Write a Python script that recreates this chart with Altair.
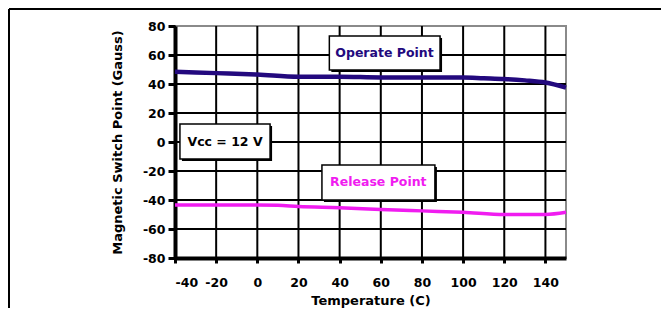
import altair as alt
import pandas as pd

# Data
temp_operate = [-40, -20, 0, 20, 40, 60, 80, 100, 110, 120, 130, 140, 150]
operate = [48.5, 47.5, 46.5, 45.0, 45.0, 44.5, 44.5, 44.5, 44.0, 43.5, 42.5, 41.0, 37.5]
temp_release = [-40, -20, 0, 10, 20, 40, 60, 80, 100, 120, 140, 150]
release = [-43.5, -43.5, -43.5, -43.7, -44.5, -45.3, -46.5, -47.5, -48.5, -50.0, -50.0, -48.5]

x_ticks = [-40, -20, 0, 20, 40, 60, 80, 100, 120, 140]
y_ticks = [-80, -60, -40, -20, 0, 20, 40, 60, 80]

labels = ["Operate Point", "Release Point", "Vcc = 12 V"]
label_colors = ["#23097e", "#f01cf0", "#000000"]

W, H = 391, 232
PAD = {"left": 167, "top": 18, "right": 95, "bottom": 50}
FONT = "DejaVu Sans"

df_op = pd.DataFrame({"t": temp_operate, "v": operate})
df_rel = pd.DataFrame({"t": temp_release, "v": release})
df_xg = pd.DataFrame({"g": x_ticks})
df_yg = pd.DataFrame({"g": [v for v in y_ticks if v != 80]})

# annotation boxes (data coordinates)
boxes = pd.DataFrame({
    "label": labels,
    "x1": [35, 31.4, -37.6], "x2": [88.8, 86.3, 6.2],
    "y1": [73.1, -15.9, 12.4], "y2": [49.7, -40.0, -11.7],
    "cx": [61.8, 58.8, -15.7], "cy": [61.4, -27.9, 0.3],
    "color": label_colors,
})

xs = alt.Scale(domain=[-40, 150], nice=False, zero=False)
ys = alt.Scale(domain=[-80, 80], nice=False, zero=False)

common = dict(grid=False, domainColor="black", domainWidth=4, tickColor="black", tickWidth=3,
              labelOverlap=False, labelFont=FONT, labelFontSize=12.5, labelFontWeight="bold",
              labelColor="black", titleFont=FONT, titleFontSize=13, titleFontWeight="bold",
              titleColor="black", labelExpr="toString(datum.value)")
x_axis = alt.Axis(values=x_ticks, tickCount=len(x_ticks), title="Temperature (C)", tickSize=5,
                  labelPadding=13, titlePadding=6, **common)
y_axis = alt.Axis(values=y_ticks, tickCount=len(y_ticks), title="Magnetic Switch Point (Gauss)",
                  tickSize=7, labelPadding=3, titlePadding=18, **common)


def X(field):
    return alt.X(field, scale=xs, axis=x_axis)


def Y(field):
    return alt.Y(field, scale=ys, axis=y_axis)


xgrid = alt.Chart(df_xg).mark_rule(color="black", strokeWidth=2).encode(x=X("g:Q"))
ygrid = alt.Chart(df_yg).mark_rule(color="black", strokeWidth=2).encode(y=Y("g:Q"))

line_op = alt.Chart(df_op).mark_line(color="#23097e", strokeWidth=4.5, interpolate="monotone").encode(
    x=X("t:Q"), y=Y("v:Q")
)
line_rel = alt.Chart(df_rel).mark_line(color="#f01cf0", strokeWidth=3.5, interpolate="monotone").encode(
    x=X("t:Q"), y=Y("v:Q")
)

shadow = alt.Chart(boxes).mark_rect(fill="black", xOffset=2, x2Offset=2, yOffset=2, y2Offset=2).encode(
    x=X("x1:Q"), x2="x2:Q", y=Y("y1:Q"), y2="y2:Q"
)
box = alt.Chart(boxes).mark_rect(fill="white", stroke="black", strokeWidth=1.5).encode(
    x=X("x1:Q"), x2="x2:Q", y=Y("y1:Q"), y2="y2:Q"
)
text = alt.Chart(boxes).mark_text(font=FONT, fontSize=12.5, fontWeight="bold", align="center", baseline="middle").encode(
    x=X("cx:Q"), y=Y("cy:Q"),
    text="label:N", color=alt.Color("color:N", scale=None),
)

frame_top = alt.Chart(pd.DataFrame({"a": [0]})).mark_rule(color="black", strokeWidth=2).encode(
    x=alt.value(-PAD["left"] + 1), x2=alt.value(W + PAD["right"]), y=alt.value(-PAD["top"] + 1)
)
frame_left = alt.Chart(pd.DataFrame({"a": [0]})).mark_rule(color="black", strokeWidth=2).encode(
    x=alt.value(-PAD["left"] + 1), y=alt.value(-PAD["top"] + 1), y2=alt.value(H + PAD["bottom"])
)

chart = alt.layer(xgrid, ygrid, line_op, line_rel, shadow, box, text, frame_top, frame_left).properties(
    width=W, height=H,
    autosize=alt.AutoSizeParams(type="none"),
    padding=PAD,
    background="white",
).configure_view(stroke="#8a8a8a", strokeWidth=2)

chart.save("out.html", embed_options={"renderer": "svg", "actions": False})
